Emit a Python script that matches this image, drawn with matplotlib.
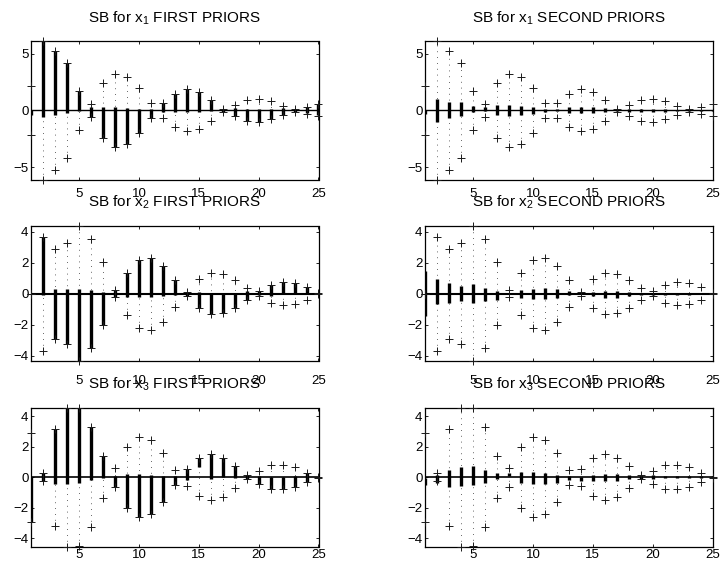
import matplotlib
matplotlib.use('Agg')
import matplotlib.pyplot as plt
import numpy as np

plt.rcParams['font.family'] = ['Liberation Sans', 'DejaVu Sans']
plt.rcParams['mathtext.default'] = 'regular'

lags = np.arange(1, 26)
xticks = [5, 10, 15, 20, 25]
variables = ['x_1', 'x_2', 'x_3']
priors = ['FIRST PRIORS', 'SECOND PRIORS']

# half-width of the bands (+ markers at +/- band)
band_x1 = [2.15, 6.1, 5.25, 4.2, 1.75, 0.6, 2.42, 3.2, 2.96, 1.98, 0.66, 0.65, 1.45,
           1.85, 1.63, 0.92, 0.15, 0.52, 0.92, 1.03, 0.8, 0.42, 0.1, 0.33, 0.53]
band_x2 = [0.0, 3.67, 2.9, 3.27, 4.37, 3.5, 2.05, 0.24, 1.35, 2.2, 2.33, 1.8, 0.87,
           0.12, 0.92, 1.33, 1.27, 0.9, 0.39, 0.16, 0.57, 0.73, 0.67, 0.41, 0.05]
band_x3 = [2.93, 0.28, 3.18, 4.57, 4.55, 3.3, 1.38, 0.62, 2.01, 2.64, 2.44, 1.6, 0.5,
           0.55, 1.23, 1.5, 1.28, 0.73, 0.13, 0.43, 0.78, 0.8, 0.67, 0.3, 0.02]

# thick bars: lower and upper ends
first_lo_x1 = [-0.4, -0.59, -0.44, -0.26, -0.03, -0.6, -2.42, -3.2, -2.96, -1.98, -0.66, -0.15, -0.15,
               -0.15, -0.12, -0.09, -0.15, -0.52, -0.92, -1.03, -0.8, -0.42, -0.1, -0.25, -0.4]
first_hi_x1 = [0.0, 6.1, 5.25, 4.2, 1.75, 0.26, 0.29, 0.29, 0.24, 0.12, 0.1, 0.65, 1.45,
               1.85, 1.63, 0.92, 0.15, 0.2, 0.15, 0.15, 0.1, 0.2, 0.1, 0.33, 0.53]
second_lo_x1 = [-0.3, -1.0, -0.65, -0.48, -0.1, -0.06, -0.42, -0.48, -0.42, -0.33, -0.18, -0.08, -0.27,
                -0.27, -0.2, -0.15, -0.08, -0.1, -0.12, -0.12, -0.1, -0.06, -0.05, -0.08, -0.05]
second_hi_x1 = [0.05, 1.0, 0.77, 0.7, 0.4, 0.3, 0.47, 0.47, 0.38, 0.27, 0.12, 0.08, 0.27,
                0.3, 0.3, 0.2, 0.08, 0.1, 0.1, 0.1, 0.08, 0.06, 0.05, 0.06, 0.05]

first_lo_x2 = [0.0, -0.07, -2.9, -3.27, -4.37, -3.5, -2.05, -0.24, -0.2, -0.2, -0.2, -0.15, -0.1,
               -0.12, -0.92, -1.33, -1.27, -0.9, -0.39, -0.1, -0.15, -0.05, -0.05, -0.05, -0.05]
first_hi_x2 = [0.0, 3.67, 0.32, 0.32, 0.32, 0.21, 0.1, 0.24, 1.35, 2.2, 2.33, 1.8, 0.87,
               0.1, 0.1, 0.06, 0.06, 0.06, 0.17, 0.16, 0.57, 0.73, 0.67, 0.41, 0.05]
second_lo_x2 = [-1.47, -0.68, -0.6, -0.45, -0.6, -0.5, -0.4, -0.05, -0.3, -0.35, -0.34, -0.25, -0.1,
                -0.05, -0.12, -0.3, -0.3, -0.17, -0.07, -0.07, -0.07, -0.06, -0.06, -0.05, -0.05]
second_hi_x2 = [1.45, 0.98, 0.72, 0.5, 0.6, 0.38, 0.17, 0.05, 0.23, 0.3, 0.34, 0.3, 0.15,
                0.05, 0.12, 0.17, 0.17, 0.12, 0.07, 0.07, 0.07, 0.06, 0.06, 0.05, 0.05]

first_lo_x3 = [-2.93, -0.28, -0.46, -0.42, -0.35, -0.2, -0.04, -0.62, -2.01, -2.64, -2.44, -1.6, -0.5,
               -0.2, 0.68, -0.13, 0.0, -0.04, -0.13, -0.43, -0.78, -0.8, -0.67, -0.3, -0.02]
first_hi_x3 = [0.0, 0.28, 3.18, 4.57, 4.55, 3.3, 1.38, 0.09, 0.24, 0.24, 0.13, 0.09, 0.09,
               0.55, 1.23, 1.5, 1.28, 0.73, 0.13, 0.1, 0.0, 0.0, 0.09, 0.29, 0.02]
second_lo_x3 = [-0.5, -0.35, -0.64, -0.57, -0.53, -0.35, -0.13, 0.1, -0.35, -0.44, -0.44, -0.35, -0.2,
                -0.25, -0.26, -0.26, -0.26, -0.1, -0.1, -0.13, -0.08, -0.08, -0.08, -0.08, -0.05]
second_hi_x3 = [-0.05, 0.15, 0.46, 0.64, 0.72, 0.5, 0.28, 0.25, 0.35, 0.35, 0.3, 0.13, 0.1,
                0.0, 0.13, 0.22, 0.22, 0.17, 0.05, 0.13, 0.08, 0.08, 0.08, 0.08, 0.05]

bands = [band_x1, band_x2, band_x3]
bars = [
    [(first_lo_x1, first_hi_x1), (second_lo_x1, second_hi_x1)],
    [(first_lo_x2, first_hi_x2), (second_lo_x2, second_hi_x2)],
    [(first_lo_x3, first_hi_x3), (second_lo_x3, second_hi_x3)],
]
yticks = [[-5, 0, 5], [-4, -2, 0, 2, 4], [-4, -2, 0, 2, 4]]

W, H = 721, 565
fig = plt.figure(figsize=(W / 100, H / 100), dpi=100)

col_left = [31.3, 425.3]
ax_w = 287.2
row_top = [41.3, 226.0, 407.7]
row_bot = [179.5, 361.4, 546.7]
xpads = [6.0, 10.0, 1.5]
zero_lw = [1.0, 1.5, 1.2]

for r in range(3):
    b = np.array(bands[r])
    ymax = b.max()
    for c in range(2):
        left = col_left[c] / W
        bottom = 1 - row_bot[r] / H
        height = (row_bot[r] - row_top[r]) / H
        ax = fig.add_axes([left, bottom, ax_w / W, height])
        lo, hi = bars[r][c]
        ax.vlines(lags, -b, b, colors='0.2', linestyles=(0, (1, 6)), linewidth=0.6, zorder=1)
        ax.axhline(0, color='k', linewidth=zero_lw[r], zorder=2)
        ax.vlines(lags, lo, hi, colors='k', linewidth=2.4, zorder=3)
        ax.plot(lags, b, '+', color='0.1', markersize=6.2, markeredgewidth=0.7, clip_on=False, zorder=4)
        ax.plot(lags, -b, '+', color='0.1', markersize=6.2, markeredgewidth=0.7, clip_on=False, zorder=4)
        ax.set_xlim(1, 25)
        ax.set_ylim(-ymax, ymax)
        ax.set_xticks(xticks)
        ax.set_yticks(yticks[r])
        ax.tick_params(direction='in', length=2.2, width=0.6, top=True, right=True,
                       labelsize=9.5, pad=2.0)
        ax.tick_params(axis='x', pad=xpads[r])
        for s in ax.spines.values():
            s.set_linewidth(0.9)
        ax.annotate('SB for $%s$ %s' % (variables[r], priors[c]), xy=(0.5, 1.0),
                    xycoords='axes fraction', xytext=(0, 13.7), textcoords='offset points',
                    ha='center', va='baseline', fontsize=11)

fig.savefig('out.png', dpi=100)
